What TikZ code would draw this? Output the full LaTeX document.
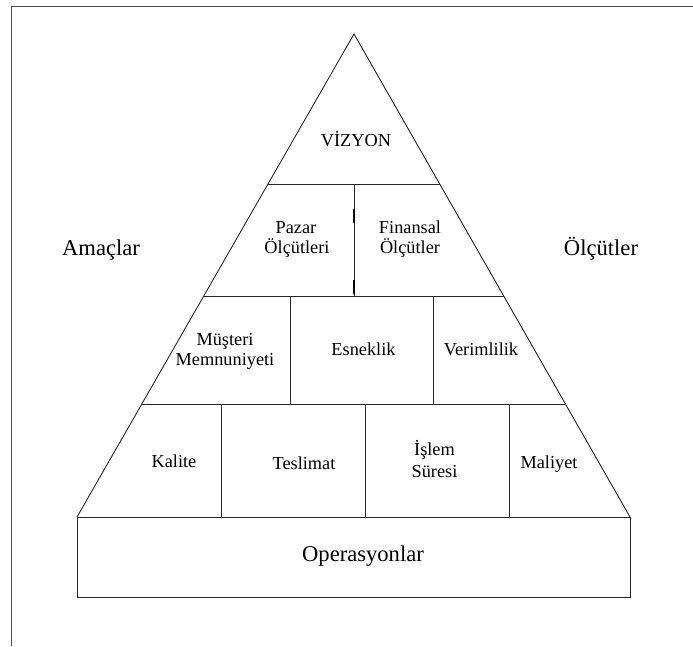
\documentclass[tikz,border=0pt]{standalone}
\usepackage{fontspec}
\setmainfont{Liberation Serif}
\usetikzlibrary{calc}
\tikzset{
  edge/.style={draw=black!85, line width=0.9pt},
  lbl/.style={anchor=base, inner sep=0pt, font=\fontsize{18.3}{21}\selectfont},
  biglbl/.style={anchor=base, inner sep=0pt, font=\fontsize{22.6}{26}\selectfont},
}
\begin{document}
\begin{tikzpicture}[x=1pt,y=-1pt]
\useasboundingbox (0,0) rectangle (693,646);
% page frame
\draw[draw=black!70, line width=0.9pt] (693,6) -- (11,6) -- (11,646);

% pyramid outline
\coordinate (apex) at (354,34);
\coordinate (bl) at (77,517);
\coordinate (br) at (630,517);
\draw[edge] (bl) -- (apex) -- (br);

% level boundaries along the sides
\coordinate (l1) at ($(apex)!0.3106!(bl)$);
\coordinate (r1) at ($(apex)!0.3106!(br)$);
\coordinate (l2) at ($(apex)!0.5424!(bl)$);
\coordinate (r2) at ($(apex)!0.5424!(br)$);
\coordinate (l3) at ($(apex)!0.7660!(bl)$);
\coordinate (r3) at ($(apex)!0.7660!(br)$);
\draw[edge] (l1) -- (r1);
\draw[edge] (l2) -- (r2);
\draw[edge] (l3) -- (r3);

% dividers inside the levels
\draw[edge] (354,184) -- (354,296);
\draw[line width=2pt, black] (354,209) -- (354,223);
\draw[line width=2pt, black] (354,280) -- (354,294);
\draw[edge] (290,296) -- (290,404);
\draw[edge] (433,296) -- (433,404);
\draw[edge] (221,404) -- (221,517);
\draw[edge] (365,404) -- (365,517);
\draw[edge] (509,404) -- (509,517);

% base box
\draw[edge] (bl) rectangle (630,597);

% labels (placed by baseline)
\node[lbl] (vizyon) at (356,146) {VİZYON};
\node[lbl] (pazar1) at (296,233) {Pazar};
\node[lbl] (pazar2) at (297,253) {Ölçütleri};
\node[lbl] (finans1) at (410,233) {Finansal};
\node[lbl] (finans2) at (410,253) {Ölçütler};
\node[lbl] (musteri1) at (225,345) {Müşteri};
\node[lbl] (musteri2) at (225,365) {Memnuniyeti};
\node[lbl] (esnek) at (363.5,355) {Esneklik};
\node[lbl] (verim) at (481,355) {Verimlilik};
\node[lbl] (kalite) at (174,467) {Kalite};
\node[lbl] (teslim) at (304,469) {Teslimat};
\node[lbl] (islem1) at (434.5,455) {İşlem};
\node[lbl] (islem2) at (434.5,477) {Süresi};
\node[lbl] (maliyet) at (549,468) {Maliyet};
\node[biglbl] (amac) at (101,255) {Amaçlar};
\node[biglbl] (olcut) at (601,255) {Ölçütler};
\node[biglbl] (oper) at (363,561.5) {Operasyonlar};
\end{tikzpicture}
\end{document}
